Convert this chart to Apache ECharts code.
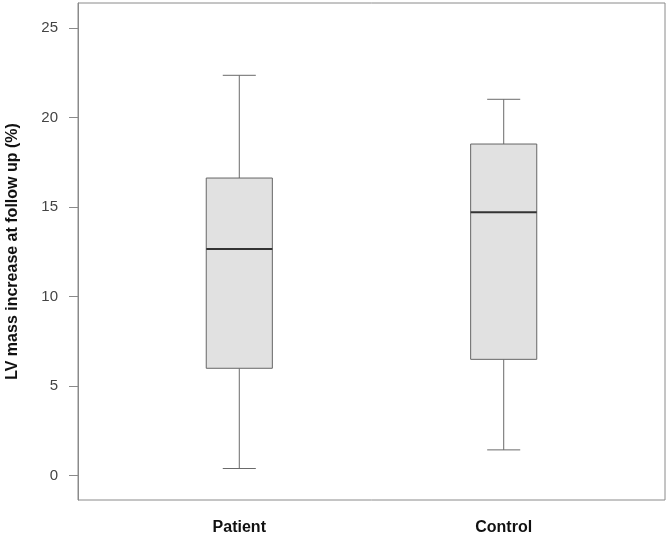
<!DOCTYPE html>
<html>
<head>
<meta charset="utf-8">
<script src="https://cdn.jsdelivr.net/npm/echarts@6/dist/echarts.min.js"></script>
<style>html,body{margin:0;padding:0;background:#fff}#c{width:669px;height:536px}</style>
</head>
<body>
<div id="c"></div>
<script>
const categories = ['Patient', 'Control'];
// [min, Q1, median, Q3, max]
const patientStats = [0.4, 6.0, 12.66, 16.63, 22.37];
const controlStats = [1.44, 6.5, 14.72, 18.53, 21.03];
const yTicks = [0, 5, 10, 15, 20, 25];
const yName = 'LV mass increase at follow up (%)';

const boxData = [[1].concat(patientStats), [2].concat(controlStats)];

const chart = echarts.init(document.getElementById('c'));
const BOX_HALF = 0.125, CAP_HALF = 0.0625;
chart.setOption({
  animation: false,
  grid: {left: 78, right: 4, top: 3, bottom: 36, containLabel: false, outerBoundsMode: 'none', show: true, borderColor: '#8a8a8a', borderWidth: 1, backgroundColor: 'transparent'},
  xAxis: {
    type: 'value', min: 0.39, max: 2.61,
    axisLine: {show: false}, axisTick: {show: false}, splitLine: {show: false},
    axisLabel: {
      customValues: [1, 2],
      formatter: v => categories[Math.round(v) - 1] || '',
      fontFamily: 'Liberation Sans, Arial', fontWeight: 'bold', fontSize: 16, color: '#111', margin: 20
    }
  },
  yAxis: {
    type: 'value', min: -1.36, max: 26.41,
    name: yName, nameLocation: 'middle', nameGap: 57,
    nameTextStyle: {fontFamily: 'Liberation Sans, Arial', fontWeight: 'bold', fontSize: 16, color: '#111'},
    axisLine: {show: true, lineStyle: {color: '#8a8a8a'}},
    axisTick: {show: true, length: 9, lineStyle: {color: '#8a8a8a'}, customValues: yTicks},
    axisLabel: {customValues: yTicks, fontFamily: 'Liberation Sans, Arial', fontSize: 15, color: '#444', margin: 20},
    splitLine: {show: false}
  },
  series: [{
    type: 'custom',
    data: boxData,
    encode: {x: 0, y: [1, 2, 3, 4, 5]},
    renderItem: function (params, api) {
      const x = api.value(0);
      const p = i => api.coord([x, api.value(i)]);
      const xl = api.coord([x - BOX_HALF, 0])[0], xr = api.coord([x + BOX_HALF, 0])[0];
      const cl = api.coord([x - CAP_HALF, 0])[0], cr = api.coord([x + CAP_HALF, 0])[0];
      const xc = p(1)[0];
      const yMin = p(1)[1], yQ1 = p(2)[1], yMed = p(3)[1], yQ3 = p(4)[1], yMax = p(5)[1];
      const ls = {stroke: '#6a6a6a', lineWidth: 1};
      return {
        type: 'group',
        children: [
          {type: 'line', shape: {x1: xc, y1: yQ3, x2: xc, y2: yMax}, style: ls},
          {type: 'line', shape: {x1: xc, y1: yQ1, x2: xc, y2: yMin}, style: ls},
          {type: 'line', shape: {x1: cl, y1: yMax, x2: cr, y2: yMax}, style: ls},
          {type: 'line', shape: {x1: cl, y1: yMin, x2: cr, y2: yMin}, style: ls},
          {type: 'rect', shape: {x: xl, y: yQ3, width: xr - xl, height: yQ1 - yQ3}, style: {fill: '#e1e1e1', stroke: '#666', lineWidth: 1}},
          {type: 'line', shape: {x1: xl, y1: yMed, x2: xr, y2: yMed}, style: {stroke: '#333', lineWidth: 2}}
        ]
      };
    }
  }]
});
</script>
</body>
</html>
